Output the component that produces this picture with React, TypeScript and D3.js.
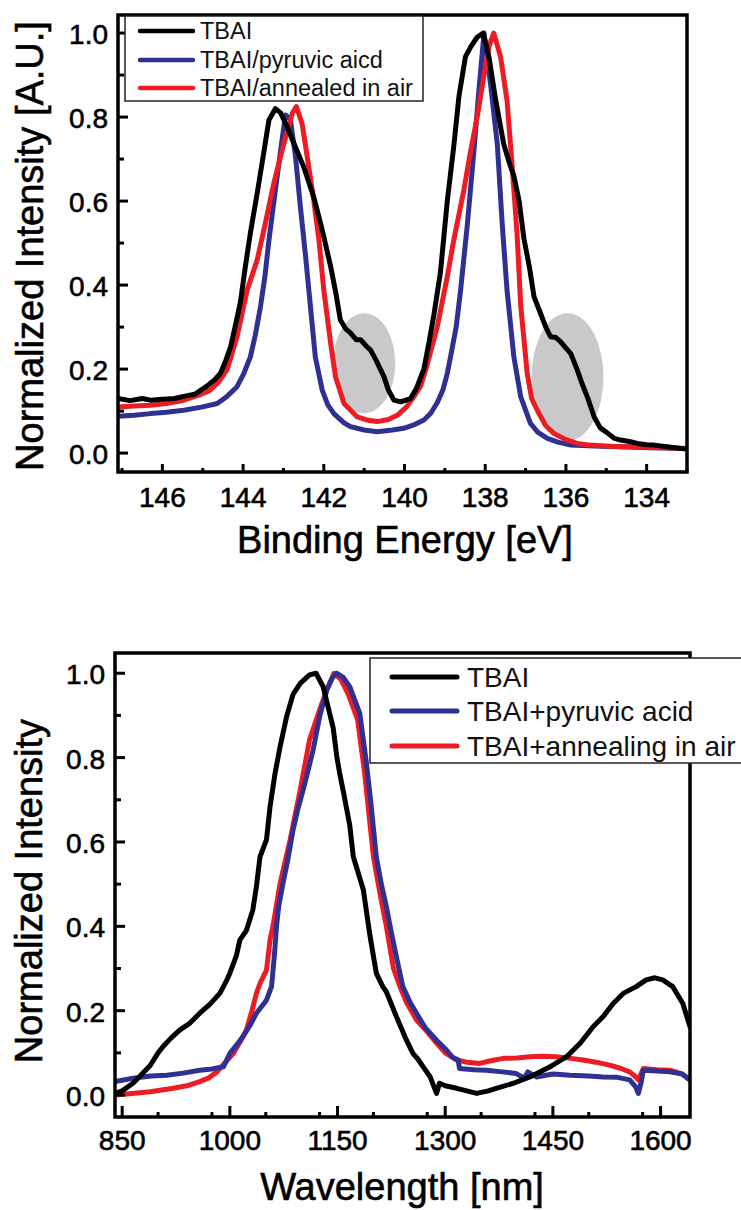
import React from "react";
import * as d3 from "d3";

type Pt = [number, number];

// ---------- Top panel: XPS I 3d ----------
const xpsLegend = ["TBAI", "TBAI/pyruvic aicd", "TBAI/annealed in air"];
const xpsXTicks = [146, 144, 142, 140, 138, 136, 134];
const xpsYTicks = [0.0, 0.2, 0.4, 0.6, 0.8, 1.0];

const xpsTbai: Pt[] = [
  [147.1, 0.13], [146.8, 0.125], [146.5, 0.13], [146.3, 0.126], [146.0, 0.128], [145.7, 0.13],
  [145.47, 0.135], [145.2, 0.14], [144.89, 0.16], [144.7, 0.175], [144.56, 0.19], [144.43, 0.22],
  [144.31, 0.253], [144.2, 0.3], [144.07, 0.357], [143.95, 0.44], [143.82, 0.524], [143.65, 0.619],
  [143.49, 0.714], [143.36, 0.793], [143.2, 0.82], [143.07, 0.81], [142.91, 0.777], [142.74, 0.737],
  [142.5, 0.682], [142.25, 0.61], [142.08, 0.547], [142.0, 0.515], [141.83, 0.444], [141.7, 0.38],
  [141.59, 0.317], [141.45, 0.295], [141.34, 0.286], [141.2, 0.27], [141.09, 0.27], [140.95, 0.255],
  [140.84, 0.245], [140.7, 0.22], [140.51, 0.182], [140.4, 0.15], [140.26, 0.126], [140.1, 0.122],
  [140.0, 0.125], [139.85, 0.13], [139.7, 0.155], [139.52, 0.2], [139.4, 0.26], [139.27, 0.33],
  [139.11, 0.43], [138.94, 0.6], [138.78, 0.73], [138.65, 0.85], [138.49, 0.944], [138.36, 0.967],
  [138.2, 0.99], [138.05, 1.0], [137.91, 0.944], [137.74, 0.84], [137.54, 0.735], [137.4, 0.69],
  [137.29, 0.66], [137.16, 0.6], [137.04, 0.51], [136.9, 0.44], [136.79, 0.372], [136.63, 0.333],
  [136.5, 0.3], [136.38, 0.277], [136.25, 0.275], [136.13, 0.265], [136.0, 0.25], [135.88, 0.237],
  [135.72, 0.198], [135.6, 0.165], [135.47, 0.134], [135.3, 0.086], [135.15, 0.06], [135.0, 0.05],
  [134.8, 0.035], [134.64, 0.031], [134.4, 0.027], [134.23, 0.023], [134.0, 0.02], [133.82, 0.019],
  [133.5, 0.015], [133.16, 0.011], [133.0, 0.01],
];

const xpsPyruvic: Pt[] = [
  [147.1, 0.088], [146.7, 0.09], [146.3, 0.094], [145.9, 0.097], [145.47, 0.102], [145.0, 0.11],
  [144.64, 0.118], [144.4, 0.135], [144.15, 0.158], [143.98, 0.19], [143.82, 0.229], [143.7, 0.28],
  [143.57, 0.348], [143.46, 0.42], [143.36, 0.507], [143.2, 0.626], [143.07, 0.721], [142.95, 0.805],
  [142.83, 0.795], [142.7, 0.705], [142.58, 0.586], [142.45, 0.467], [142.33, 0.348], [142.21, 0.229],
  [142.04, 0.15], [141.9, 0.115], [141.75, 0.094], [141.5, 0.072], [141.34, 0.063], [141.0, 0.055],
  [140.68, 0.051], [140.3, 0.055], [140.02, 0.059], [139.75, 0.068], [139.52, 0.079], [139.35, 0.095],
  [139.19, 0.12], [139.05, 0.15], [138.94, 0.19], [138.86, 0.229], [138.72, 0.3], [138.61, 0.388],
  [138.44, 0.547], [138.28, 0.72], [138.16, 0.86], [138.03, 1.0], [137.87, 0.88], [137.7, 0.735],
  [137.58, 0.547], [137.46, 0.388], [137.29, 0.229], [137.12, 0.134], [136.88, 0.071], [136.7, 0.05],
  [136.46, 0.035], [136.2, 0.026], [135.88, 0.019], [135.3, 0.017], [134.64, 0.015], [133.9, 0.013],
  [133.0, 0.011],
];

const xpsAnnealed: Pt[] = [
  [147.1, 0.11], [146.7, 0.112], [146.3, 0.114], [145.9, 0.118], [145.47, 0.126], [145.1, 0.138],
  [144.81, 0.15], [144.6, 0.17], [144.4, 0.198], [144.15, 0.277], [143.9, 0.388], [143.65, 0.46],
  [143.45, 0.547], [143.24, 0.642], [142.99, 0.737], [142.78, 0.809], [142.68, 0.825], [142.54, 0.785],
  [142.41, 0.705], [142.25, 0.602], [142.12, 0.507], [142.0, 0.388], [141.83, 0.261], [141.71, 0.182],
  [141.5, 0.118], [141.17, 0.086], [140.9, 0.078], [140.68, 0.075], [140.4, 0.08], [140.18, 0.09],
  [139.95, 0.11], [139.77, 0.134], [139.6, 0.16], [139.44, 0.21], [139.19, 0.3], [138.94, 0.42],
  [138.78, 0.507], [138.53, 0.626], [138.36, 0.72], [138.2, 0.8], [138.03, 0.9], [137.9, 0.97],
  [137.79, 1.0], [137.62, 0.944], [137.46, 0.84], [137.33, 0.68], [137.21, 0.52], [137.12, 0.35],
  [136.96, 0.19], [136.85, 0.13], [136.71, 0.102], [136.5, 0.065], [136.3, 0.047], [136.0, 0.032],
  [135.72, 0.023], [135.4, 0.019], [135.06, 0.017], [134.6, 0.015], [134.23, 0.015], [133.6, 0.013],
  [133.0, 0.011],
];

// highlighted shoulder regions: [centerE, centerI, radiusE, radiusI]
const xpsShoulders: [number, number, number, number][] = [
  [141.0, 0.214, 0.77, 0.119],
  [135.96, 0.181, 0.89, 0.152],
];

// ---------- Bottom panel: PL ----------
const plLegend = ["TBAI", "TBAI+pyruvic acid", "TBAI+annealing in air"];
const plXTicks = [850, 1000, 1150, 1300, 1450, 1600];
const plYTicks = [0.0, 0.2, 0.4, 0.6, 0.8, 1.0];

const plTbai: Pt[] = [
  [840, 0.004], [850, 0.01], [865, 0.028], [875, 0.045], [889, 0.07], [900, 0.1], [907, 0.115],
  [918, 0.135], [930, 0.154], [944, 0.17], [958, 0.194], [972, 0.215], [986, 0.241], [995, 0.27],
  [1000, 0.289], [1009, 0.33], [1014, 0.368], [1023, 0.39], [1032, 0.439], [1037, 0.494], [1042, 0.565],
  [1051, 0.605], [1056, 0.684], [1063, 0.763], [1070, 0.826], [1079, 0.897], [1088, 0.95], [1098, 0.976],
  [1111, 0.996], [1120, 1.0], [1130, 0.968], [1139, 0.905], [1144, 0.87], [1149, 0.802], [1153, 0.763],
  [1158, 0.72], [1167, 0.64], [1172, 0.565], [1186, 0.486], [1195, 0.38], [1204, 0.289], [1213, 0.257],
  [1218, 0.245], [1232, 0.186], [1246, 0.13], [1255, 0.099], [1262, 0.085], [1279, 0.043], [1288, 0.004],
  [1292, 0.028], [1300, 0.022], [1316, 0.016], [1330, 0.01], [1344, 0.004], [1360, 0.01], [1371, 0.016],
  [1395, 0.028], [1418, 0.043], [1446, 0.067], [1469, 0.091], [1488, 0.123], [1506, 0.162], [1520, 0.186],
  [1534, 0.217], [1548, 0.241], [1566, 0.257], [1580, 0.273], [1592, 0.278], [1603, 0.273], [1617, 0.257],
  [1631, 0.217], [1641, 0.162],
];

const plPyruvic: Pt[] = [
  [840, 0.032], [865, 0.04], [890, 0.045], [912, 0.047], [935, 0.052], [958, 0.059], [975, 0.062],
  [991, 0.067], [1000, 0.099], [1010, 0.12], [1018, 0.138], [1028, 0.165], [1037, 0.194], [1051, 0.225],
  [1058, 0.257], [1062, 0.33], [1065, 0.4], [1068, 0.447], [1074, 0.502], [1081, 0.56], [1088, 0.628],
  [1095, 0.68], [1102, 0.723], [1109, 0.77], [1116, 0.818], [1125, 0.897], [1135, 0.96], [1143, 0.99],
  [1149, 1.0], [1158, 0.99], [1167, 0.968], [1181, 0.905], [1190, 0.79], [1196, 0.7], [1204, 0.565],
  [1211, 0.5], [1218, 0.447], [1225, 0.385], [1232, 0.328], [1241, 0.257], [1251, 0.22], [1260, 0.194],
  [1272, 0.16], [1288, 0.13], [1300, 0.11], [1310, 0.09], [1318, 0.083], [1320, 0.063], [1340, 0.06],
  [1357, 0.059], [1380, 0.055], [1399, 0.051], [1410, 0.04], [1415, 0.055], [1427, 0.043], [1450, 0.05],
  [1474, 0.047], [1500, 0.045], [1520, 0.043], [1540, 0.042], [1557, 0.036], [1565, 0.02], [1569, 0.004],
  [1573, 0.03], [1576, 0.059], [1595, 0.057], [1613, 0.055], [1630, 0.05], [1641, 0.036],
];

const plAnnealed: Pt[] = [
  [840, 0.0], [860, 0.003], [889, 0.008], [921, 0.016], [940, 0.022], [958, 0.032], [970, 0.04],
  [982, 0.055], [995, 0.08], [1005, 0.099], [1014, 0.125], [1023, 0.154], [1030, 0.195], [1037, 0.241],
  [1042, 0.265], [1051, 0.296], [1056, 0.368], [1060, 0.4], [1070, 0.502], [1084, 0.605], [1098, 0.723],
  [1111, 0.842], [1125, 0.913], [1135, 0.96], [1145, 1.0], [1155, 0.985], [1165, 0.95], [1178, 0.89],
  [1188, 0.76], [1200, 0.565], [1210, 0.47], [1218, 0.4], [1228, 0.3], [1237, 0.257], [1246, 0.22],
  [1260, 0.178], [1275, 0.15], [1288, 0.123], [1300, 0.1], [1316, 0.083], [1330, 0.078], [1348, 0.075],
  [1365, 0.082], [1381, 0.087], [1400, 0.088], [1418, 0.091], [1435, 0.092], [1455, 0.091], [1475, 0.087],
  [1492, 0.083], [1510, 0.078], [1529, 0.071], [1545, 0.063], [1557, 0.055], [1564, 0.045], [1569, 0.036],
  [1576, 0.063], [1595, 0.06], [1613, 0.059], [1630, 0.05], [1641, 0.036],
];

// ---------- styling ----------
const FONT = "'Liberation Sans', Arial, Helvetica, sans-serif";
const BLACK = "#000000";
const BLUE = "#2e3192";
const RED = "#ed1c24";

type Series = { data: Pt[]; color: string };

type PanelProps = {
  id: string;
  left: number; right: number; top: number; bottom: number;
  xDomain: [number, number]; yDomain: [number, number];
  xTicks: number[]; xMinorStep: number; yTicks: number[];
  xFormat: (v: number) => string;
  xTitle: string; yTitle: string;
  xTitleY: number; xTitleX: number; yTitleX: number; yTitleY: number;
  xLabelY: number; yLabelRight: number;
  xMajorLen: number; xMinorLen: number;
  series: Series[];
  ellipses?: [number, number, number, number][];
  legend: { labels: string[]; colors: string[]; box: [number, number, number, number]; lineX: [number, number]; textX: number; ys: number[]; fontSize: number; lineW: number };
};

function Panel(p: PanelProps) {
  const x = d3.scaleLinear().domain(p.xDomain).range([p.left, p.right]);
  const y = d3.scaleLinear().domain(p.yDomain).range([p.bottom, p.top]);
  const line = d3.line<Pt>().x((d) => x(d[0])).y((d) => y(d[1])).curve(d3.curveLinear);

  const [xa, xb] = p.xDomain;
  const lo = Math.min(xa, xb), hi = Math.max(xa, xb);
  const xMinor: number[] = [];
  for (let v = Math.ceil(lo / p.xMinorStep) * p.xMinorStep; v <= hi; v += p.xMinorStep) {
    if (!p.xTicks.some((t) => Math.abs(t - v) < 1e-6)) xMinor.push(v);
  }
  const yMinor = d3.range(0.1, 1.01, 0.2);

  const clipId = `clip-${p.id}`;
  const lg = p.legend;
  const heavy = { stroke: "#000", strokeWidth: 0.6 };
  return (
    <g>
      <defs>
        <clipPath id={clipId}>
          <rect x={p.left} y={p.top} width={p.right - p.left} height={p.bottom - p.top} />
        </clipPath>
      </defs>
      <g clipPath={`url(#${clipId})`}>
        {(p.ellipses || []).map((e, i) => (
          <ellipse key={i} cx={x(e[0])} cy={y(e[1])} rx={Math.abs(x(e[0] + e[2]) - x(e[0]))} ry={Math.abs(y(e[1] + e[3]) - y(e[1]))} fill="#c9c9c9" />
        ))}
        {p.series.map((s, i) => (
          <path key={i} d={line(s.data) || ""} fill="none" stroke={s.color} strokeWidth={5} strokeLinejoin="round" strokeLinecap="round" />
        ))}
      </g>
      {/* frame */}
      <rect x={p.left} y={p.top} width={p.right - p.left} height={p.bottom - p.top} fill="none" stroke="#000" strokeWidth={3.5} />
      {/* x ticks */}
      {p.xTicks.map((t) => (
        <g key={`xt${t}`}>
          <line x1={x(t)} x2={x(t)} y1={p.bottom} y2={p.bottom - p.xMajorLen} stroke="#000" strokeWidth={3} />
          <text x={x(t)} y={p.xLabelY} textAnchor="middle" fontFamily={FONT} fontSize={28} fill="#000" {...heavy}>{p.xFormat(t)}</text>
        </g>
      ))}
      {xMinor.map((t) => (
        <line key={`xm${t}`} x1={x(t)} x2={x(t)} y1={p.bottom} y2={p.bottom - p.xMinorLen} stroke="#000" strokeWidth={3} />
      ))}
      {/* y ticks */}
      {p.yTicks.map((t) => (
        <g key={`yt${t}`}>
          <line x1={p.left} x2={p.left + 10} y1={y(t)} y2={y(t)} stroke="#000" strokeWidth={3} />
          <text x={p.yLabelRight} y={y(t) + 11} textAnchor="end" fontFamily={FONT} fontSize={28} fill="#000" {...heavy}>{t.toFixed(1)}</text>
        </g>
      ))}
      {yMinor.map((t) => (
        <line key={`ym${t}`} x1={p.left} x2={p.left + 6} y1={y(t)} y2={y(t)} stroke="#000" strokeWidth={3} />
      ))}
      {/* titles */}
      <text x={p.xTitleX} y={p.xTitleY} textAnchor="middle" fontFamily={FONT} fontSize={38} fill="#000" {...heavy}>{p.xTitle}</text>
      <text transform={`translate(${p.yTitleX},${p.yTitleY}) rotate(-90)`} textAnchor="middle" fontFamily={FONT} fontSize={38} fill="#000" {...heavy}>{p.yTitle}</text>
      {/* legend */}
      <rect x={lg.box[0]} y={lg.box[1]} width={lg.box[2]} height={lg.box[3]} fill="#fff" stroke="#222" strokeWidth={1.5} />
      {lg.labels.map((l, i) => (
        <g key={l}>
          <line x1={lg.lineX[0]} x2={lg.lineX[1]} y1={lg.ys[i]} y2={lg.ys[i]} stroke={lg.colors[i]} strokeWidth={lg.lineW} strokeLinecap="round" />
          <text x={lg.textX} y={lg.ys[i] + lg.fontSize * 0.36} fontFamily={FONT} fontSize={lg.fontSize} fill="#111">{l}</text>
        </g>
      ))}
    </g>
  );
}

export default function App() {
  return (
    <div style={{ position: "absolute", left: 0, top: 0, width: 741, height: 1210, background: "#fff" }}>
      <svg width={741} height={1210} viewBox="0 0 741 1210" style={{ display: "block" }}>
        <rect x={0} y={0} width={741} height={1210} fill="#fff" />
        <Panel
          id="xps"
          left={118} right={687} top={15} bottom={472}
          xDomain={[147.1, 133.0]} yDomain={[-0.045, 1.043]}
          xTicks={xpsXTicks} xMinorStep={1} yTicks={xpsYTicks}
          xFormat={(v) => String(v)}
          xTitle="Binding Energy [eV]" yTitle="Normalized Intensity [A.U.]"
          xTitleX={405} xTitleY={553} yTitleX={43} yTitleY={246}
          xLabelY={507} yLabelRight={108}
          xMajorLen={8} xMinorLen={4}
          series={[
            { data: xpsPyruvic, color: BLUE },
            { data: xpsAnnealed, color: RED },
            { data: xpsTbai, color: BLACK },
          ]}
          ellipses={xpsShoulders}
          legend={{ labels: xpsLegend, colors: [BLACK, BLUE, RED], box: [125, 16, 298, 85], lineX: [140, 193], textX: 200, ys: [31, 60, 88], fontSize: 23.5, lineW: 4.5 }}
        />
        <Panel
          id="pl"
          left={115} right={690} top={653} bottom={1117}
          xDomain={[840, 1641]} yDomain={[-0.052, 1.048]}
          xTicks={plXTicks} xMinorStep={75} yTicks={plYTicks}
          xFormat={(v) => String(v)}
          xTitle="Wavelength [nm]" yTitle="Normalized Intensity"
          xTitleX={402} xTitleY={1200} yTitleX={42} yTitleY={891}
          xLabelY={1150} yLabelRight={105}
          xMajorLen={11} xMinorLen={5}
          series={[
            { data: plAnnealed, color: RED },
            { data: plPyruvic, color: BLUE },
            { data: plTbai, color: BLACK },
          ]}
          legend={{ labels: plLegend, colors: [BLACK, BLUE, RED], box: [370, 658, 380, 105], lineX: [392, 457], textX: 467, ys: [677, 711, 746], fontSize: 28, lineW: 5 }}
        />
      </svg>
    </div>
  );
}
